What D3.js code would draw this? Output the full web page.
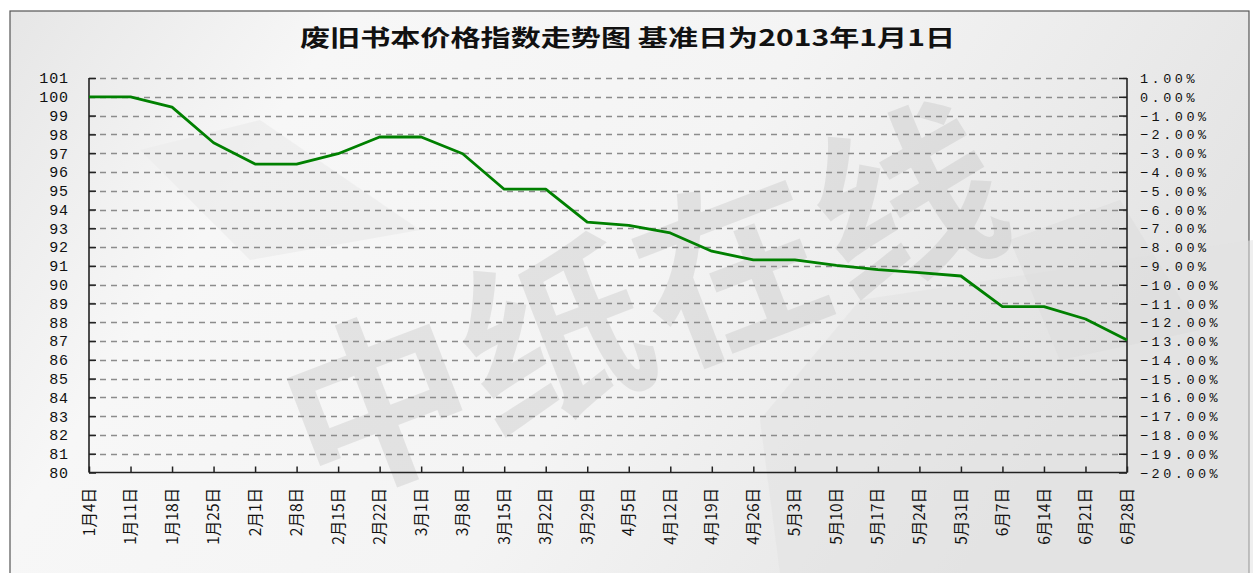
<!DOCTYPE html>
<html>
<head>
<meta charset="utf-8">
<script src="https://cdn.jsdelivr.net/npm/d3@7/dist/d3.min.js"></script>
<style>
html,body{margin:0;padding:0;background:#fff;}
svg{display:block;}
</style>
</head>
<body>
<svg id="chart" width="1253" height="573"></svg>
<script>
const titleText = "废旧书本价格指数走势图 基准日为2013年1月1日";
const watermarkText = "中纸在线";
const categories = ["1月4日","1月11日","1月18日","1月25日","2月1日","2月8日","2月15日","2月22日","3月1日","3月8日","3月15日","3月22日","3月29日","4月5日","4月12日","4月19日","4月26日","5月3日","5月10日","5月17日","5月24日","5月31日","6月7日","6月14日","6月21日","6月28日"];
const indexValues = [100,100,99.45,97.55,96.42,96.42,96.97,97.86,97.86,96.97,95.08,95.08,93.33,93.15,92.75,91.78,91.32,91.32,91.02,90.8,90.64,90.46,88.83,88.83,88.17,87.05];
const leftTicks = [80,81,82,83,84,85,86,87,88,89,90,91,92,93,94,95,96,97,98,99,100,101];
const rightTicks = [-20,-19,-18,-17,-16,-15,-14,-13,-12,-11,-10,-9,-8,-7,-6,-5,-4,-3,-2,-1,0,1];

const svg = d3.select("#chart");
const W = 1253, H = 573;
const L = 89, R = 1127, T = 78, B = 472.5;

// background
const defs = svg.append("defs");
const g1 = defs.append("linearGradient").attr("id","bg").attr("x1","0").attr("y1","0").attr("x2","1").attr("y2","0.3");
g1.append("stop").attr("offset","0").attr("stop-color","#e6e6e6");
g1.append("stop").attr("offset","0.25").attr("stop-color","#f7f7f7");
g1.append("stop").attr("offset","0.6").attr("stop-color","#f4f4f4");
g1.append("stop").attr("offset","1").attr("stop-color","#e4e4e4");
svg.append("rect").attr("x",0).attr("y",0).attr("width",W).attr("height",H).attr("fill","#fff");
svg.append("rect").attr("x",10).attr("y",11).attr("width",1239).attr("height",H).attr("fill","url(#bg)").attr("stroke","#555").attr("stroke-width",1.2);

// faint background shapes
svg.append("path").attr("d","M760,420 L860,300 L1253,240 L1253,573 L780,573 Z").attr("fill","#e2e2e2").attr("opacity",0.55);
svg.append("path").attr("d","M140,150 L260,120 L420,230 L250,260 Z").attr("fill","#ececec").attr("opacity",0.8);
svg.append("path").attr("d","M1010,240 L1120,200 L1200,330 L1060,360 Z").attr("fill","#dcdcdc").attr("opacity",0.5);

// watermark
svg.append("text")
  .attr("transform","translate(640,290) rotate(-21)")
  .attr("text-anchor","middle")
  .attr("dominant-baseline","central")
  .attr("font-family","Noto Sans CJK SC")
  .attr("font-weight","700")
  .attr("font-size",185)
  .attr("letter-spacing",4)
  .attr("fill","#a9a9a9")
  .attr("opacity",0.24)
  .text(watermarkText);

// scales
const x = d3.scalePoint().domain(categories).range([L, R]);
const y = d3.scaleLinear().domain([80, 101]).range([B, T]);
const y2 = d3.scaleLinear().domain([-20, 1]).range([B, T]);

// grid
svg.append("g").selectAll("line").data(leftTicks.filter(d => d > 80)).join("line")
  .attr("x1", L).attr("x2", R)
  .attr("y1", d => Math.round(y(d)) + 0.5).attr("y2", d => Math.round(y(d)) + 0.5)
  .attr("stroke", "#8c8c8c").attr("stroke-width", 1.3).attr("stroke-dasharray", "6,5");

// left axis
const leftAxis = d3.axisRight(y).tickValues(leftTicks).tickSize(7).tickFormat("");
const la = svg.append("g").attr("transform", `translate(${L},0)`).call(leftAxis);
la.select(".domain").remove();
la.selectAll(".tick line").attr("stroke", "#222").attr("stroke-width", 1.5);
svg.append("g").selectAll("text").data(leftTicks).join("text")
  .attr("x", 69).attr("y", d => y(d)).attr("dy", "0.36em")
  .attr("text-anchor", "end")
  .attr("font-family", "Liberation Mono, DejaVu Sans Mono, monospace")
  .attr("font-size", 15).attr("letter-spacing", 0.9)
  .attr("fill", "#111")
  .text(d => d);

// right axis
const rightAxis = d3.axisLeft(y2).tickValues(rightTicks).tickSize(8).tickFormat("");
const ra = svg.append("g").attr("transform", `translate(${R},0)`).call(rightAxis);
ra.select(".domain").remove();
ra.selectAll(".tick line").attr("stroke", "#222").attr("stroke-width", 1.5);
svg.append("g").selectAll("text").data(rightTicks).join("text")
  .attr("x", 1140).attr("y", d => y2(d)).attr("dy", "0.38em")
  .attr("text-anchor", "start")
  .attr("font-family", "Liberation Mono, DejaVu Sans Mono, monospace")
  .attr("font-size", 13.5).attr("letter-spacing", 3.5)
  .attr("fill", "#111")
  .text(d => d3.format(".2f")(d) + "%");

// bottom axis
const bottomAxis = d3.axisTop(x).tickSize(6).tickFormat("");
const ba = svg.append("g").attr("transform", `translate(0,${B})`).call(bottomAxis);
ba.select(".domain").remove();
ba.selectAll(".tick line").attr("stroke", "#222").attr("stroke-width", 1.5);
svg.append("g").selectAll("text").data(categories).join("text")
  .attr("transform", d => `translate(${x(d)},488) rotate(-90)`)
  .attr("dy", "0.36em")
  .attr("text-anchor", "end")
  .attr("font-family", "Noto Sans CJK SC")
  .attr("font-size", 15.5)
  .attr("fill", "#111")
  .text(d => d);

// axis lines
svg.append("line").attr("x1", L).attr("x2", L).attr("y1", T).attr("y2", B).attr("stroke", "#222").attr("stroke-width", 1.6);
svg.append("line").attr("x1", R).attr("x2", R).attr("y1", T).attr("y2", B).attr("stroke", "#222").attr("stroke-width", 1.6);
svg.append("line").attr("x1", L).attr("x2", R).attr("y1", B).attr("y2", B).attr("stroke", "#222").attr("stroke-width", 1.6);

// line
const line = d3.line().x((d, i) => x(categories[i])).y(d => y(d));
svg.append("path").datum(indexValues)
  .attr("d", line)
  .attr("fill", "none")
  .attr("stroke", "#008000")
  .attr("stroke-width", 2.8)
  .attr("stroke-linejoin", "round");

// title
svg.append("text")
  .attr("x", 300).attr("y", 46)
  .attr("textLength", 655).attr("lengthAdjust", "spacingAndGlyphs")
  .attr("font-family", "Noto Sans CJK SC")
  .attr("font-weight", 700)
  .attr("font-size", 22.5)
  .attr("fill", "#111")
  .text(titleText);
</script>
</body>
</html>
